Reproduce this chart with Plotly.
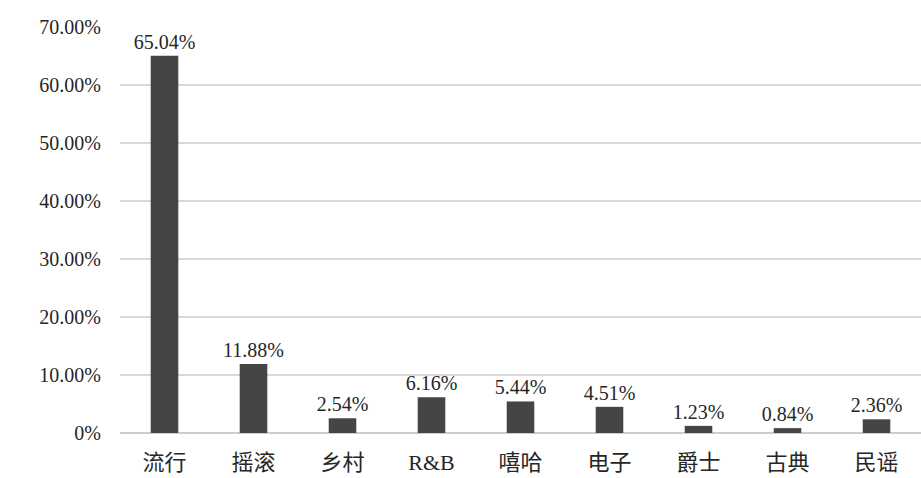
import plotly.graph_objects as go

categories = ["流行", "摇滚", "乡村", "R&B", "嘻哈", "电子", "爵士", "古典", "民谣"]
values = [65.04, 11.88, 2.54, 6.16, 5.44, 4.51, 1.23, 0.84, 2.36]
y_ticks = [0, 10, 20, 30, 40, 50, 60, 70]
y_ticktext = ["0%", "10.00%", "20.00%", "30.00%", "40.00%", "50.00%", "60.00%", "70.00%"]

font_family = "Liberation Serif, Noto Sans CJK SC, serif"

fig = go.Figure(go.Bar(
    x=categories,
    y=values,
    marker=dict(color="#454545", line=dict(width=0)),
    text=[f"{v:.2f}%" for v in values],
    textposition="outside",
    constraintext="none",
    textfont=dict(size=20, color="#262626", family=font_family),
    cliponaxis=False,
    width=0.31,
))

fig.update_layout(
    width=921, height=478,
    margin=dict(l=120, r=0, t=27, b=45),
    paper_bgcolor="white",
    plot_bgcolor="white",
    showlegend=False,
    font=dict(family=font_family, size=20, color="#262626"),
    xaxis=dict(showgrid=False, showline=False, ticks="", ticklabelstandoff=14,
               tickfont=dict(size=22, family="Liberation Serif, Noto Sans CJK SC, serif", color="#262626")),
    yaxis=dict(range=[0, 70], tickvals=y_ticks, ticktext=y_ticktext, showgrid=True,
               gridcolor="#d9d9d9", gridwidth=2, zeroline=True, zerolinecolor="#cccccc", zerolinewidth=2,
               showline=False, ticks="", ticklabelstandoff=18, tickfont=dict(size=20)),
)

fig.write_html("out.html")
